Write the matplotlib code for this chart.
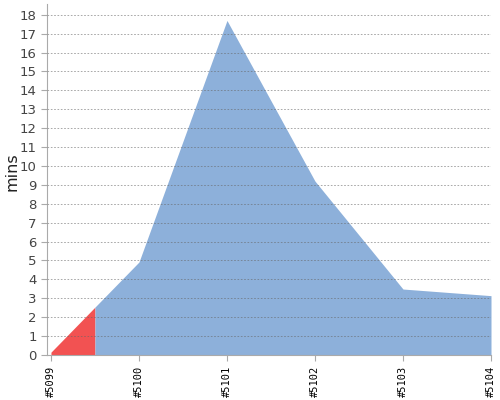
import numpy as np
import matplotlib
matplotlib.use("Agg")
import matplotlib.pyplot as plt

# Data setup
builds = ["#5099", "#5100", "#5101", "#5102", "#5103", "#5104"]
durations = [0.15, 4.92, 17.7, 9.2, 3.49, 3.14]
failed = [True, False, False, False, False, False]

x = np.arange(len(builds))
y = np.array(durations)

fig = plt.figure(figsize=(5, 4), dpi=100)
ax = fig.add_axes([0.094, 0.1125, 0.888, 0.8775])

# each build owns the span from midpoint to midpoint; merge equal-status runs
edges = np.concatenate([[0], x[:-1] + 0.5, [x[-1]]])
start = 0
for i in range(1, len(builds) + 1):
    if i == len(builds) or failed[i] != failed[start]:
        lo, hi = edges[start], edges[i]
        xs = np.concatenate([[lo], x[(x > lo) & (x < hi)], [hi]])
        ys = np.interp(xs, x, y)
        color = "#f25252" if failed[start] else "#8db0da"
        ax.fill_between(xs, 0, ys, color=color, lw=0, zorder=2)
        start = i

ax.set_xlim(-0.045, len(builds) - 1)
ax.set_ylim(0, 18.57)
ax.set_yticks(range(19))
ax.set_xticks(x)
ax.set_xticklabels(builds, rotation=90, family="DejaVu Sans Mono", fontsize=7.5)
ax.tick_params(axis="y", labelsize=9.5, colors="#444444", length=4, color="#aaaaaa")
ax.tick_params(axis="x", length=4, color="#aaaaaa")
ax.yaxis.grid(True, linestyle=(0, (2, 2)), color="#666666", lw=0.6, alpha=0.65, zorder=3)
ax.set_axisbelow(False)
for s in ["top", "right"]:
    ax.spines[s].set_visible(False)
for s in ["left", "bottom"]:
    ax.spines[s].set_color("#aaaaaa")
ax.set_ylabel("mins", fontsize=11.5, color="#222222")
ax.yaxis.set_label_coords(-0.061, 0.523)

fig.savefig("out.png", dpi=100)
